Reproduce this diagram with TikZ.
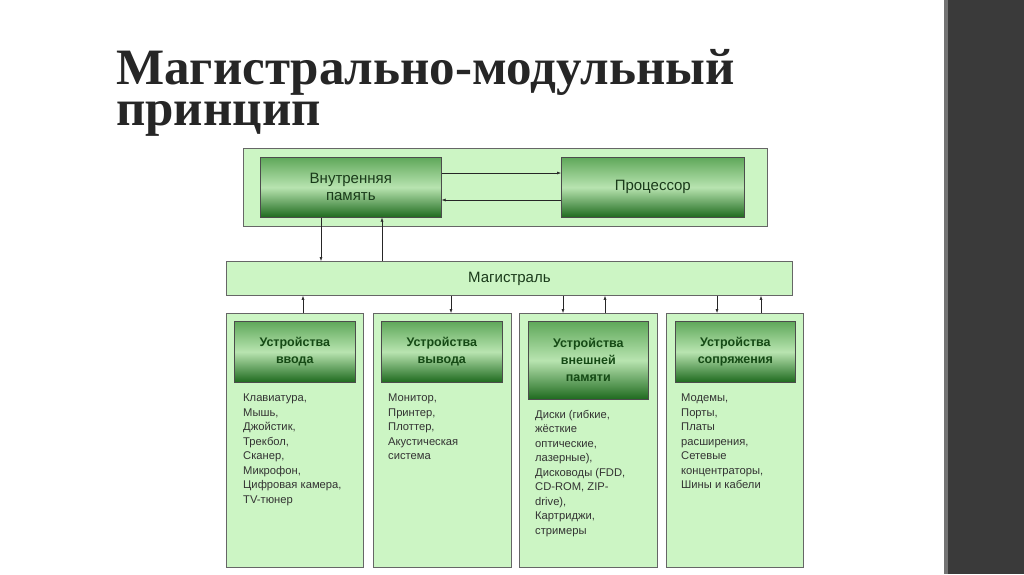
\documentclass[tikz,border=0pt]{standalone}
\usepackage{fontspec}
\setmainfont{Liberation Serif}
\newfontfamily\arialf{Liberation Sans}
\usetikzlibrary{arrows.meta}
\definecolor{lg}{HTML}{CCF5C4}
\definecolor{dg}{HTML}{1E6A1E}
\definecolor{mg}{HTML}{5FA85A}
\definecolor{hg}{HTML}{B8E4B0}
\definecolor{txtg}{HTML}{1A3A1A}
\definecolor{band}{HTML}{3A3A3A}
\tikzset{
 panel/.style={draw=black!60,fill=lg,line width=0.8pt,anchor=north west,inner sep=0pt},
 gbox/.style={draw=black!70,line width=0.6pt,top color=mg,bottom color=dg,middle color=hg,anchor=north west,inner sep=0pt,align=center,font=\arialf\fontsize{15}{17}\selectfont,text=txtg},
 hbox/.style={gbox,font=\arialf\bfseries\fontsize{12.5}{17}\selectfont,text=dg!70!black},
 list/.style={anchor=north west,align=left,inner sep=0pt,font=\arialf\fontsize{11.2}{14.5}\selectfont,text=black!80},
 ttl/.style={anchor=base west,inner sep=0pt,font=\bfseries\fontsize{51}{51}\selectfont,text=black!85},
 arr/.style={-{Latex[length=4pt,width=3pt]},line width=0.5pt,black!85}
}
\begin{document}
\begin{tikzpicture}[x=1pt,y=-1pt]
\useasboundingbox (0,0) rectangle (1024,574);
\fill[white] (0,0) rectangle (1024,574);
\fill[band] (948,0) rectangle (1024,574);
\fill[black!55] (944,0) rectangle (948,574);
\node[ttl] (title1) at (116,84) {Магистрально-модульный};
\node[ttl] (title2) at (116,125) {принцип};
% top
\node[panel,minimum width=524,minimum height=78] (top) at (243,148) {};
\node[gbox,minimum width=181,minimum height=60] (mem) at (260,157) {Внутренняя\\память};
\node[gbox,minimum width=183,minimum height=60] (cpu) at (561,157) {Процессор};
\draw[arr] ([yshift=-16]mem.north east) -- ([yshift=-16]cpu.north west);
\draw[arr] ([yshift=-43]cpu.north west) -- ([yshift=-43]mem.north east);
% bus
\node[panel,minimum width=566,minimum height=34] (bus) at (226,261) {};
\node[font=\arialf\fontsize{15}{17}\selectfont,text=txtg] (bust) at (bus.center) {Магистраль};
\draw[arr] ([xshift=61]mem.south west) -- ([xshift=61]mem.south west |- bus.north);
\draw[arr] ([xshift=122]mem.south west |- bus.north) -- ([xshift=122]mem.south west);
% columns
\node[panel,minimum width=137,minimum height=254] (c1) at (226,313) {};
\node[panel,minimum width=138,minimum height=254] (c2) at (373,313) {};
\node[panel,minimum width=138,minimum height=254] (c3) at (519,313) {};
\node[panel,minimum width=137,minimum height=254] (c4) at (666,313) {};
\node[hbox,minimum width=121,minimum height=61] (h1) at (234,321) {Устройства\\ввода};
\node[hbox,minimum width=121,minimum height=61] (h2) at (381,321) {Устройства\\вывода};
\node[hbox,minimum width=120,minimum height=78] (h3) at (528,321) {Устройства\\внешней\\памяти};
\node[hbox,minimum width=120,minimum height=61] (h4) at (675,321) {Устройства\\сопряжения};
\node[list] (l1) at (243,394) {Клавиатура,\\Мышь,\\Джойстик,\\Трекбол,\\Сканер,\\Микрофон,\\Цифровая камера,\\TV-тюнер};
\node[list] (l2) at (388,394) {Монитор,\\Принтер,\\Плоттер,\\Акустическая\\система};
\node[list] (l3) at (535,410) {Диски (гибкие,\\жёсткие\\оптические,\\лазерные),\\Дисководы (FDD,\\CD-ROM, ZIP-\\drive),\\Картриджи,\\стримеры};
\node[list] (l4) at (681,394) {Модемы,\\Порты,\\Платы\\расширения,\\Сетевые\\концентраторы,\\Шины и кабели};
\draw[arr] ([xshift=77]c1.north west) -- ([xshift=77]c1.north west |- bus.south);
\draw[arr] ([xshift=78]c2.north west |- bus.south) -- ([xshift=78]c2.north west);
\draw[arr] ([xshift=44]c3.north west |- bus.south) -- ([xshift=44]c3.north west);
\draw[arr] ([xshift=86]c3.north west) -- ([xshift=86]c3.north west |- bus.south);
\draw[arr] ([xshift=51]c4.north west |- bus.south) -- ([xshift=51]c4.north west);
\draw[arr] ([xshift=95]c4.north west) -- ([xshift=95]c4.north west |- bus.south);
\end{tikzpicture}
\end{document}
